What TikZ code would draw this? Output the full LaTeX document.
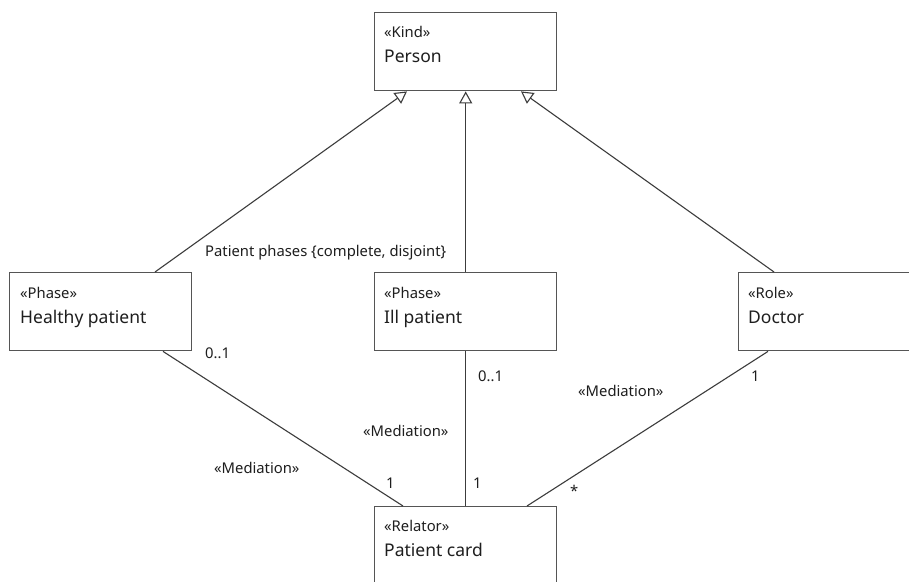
\documentclass[tikz,border=0pt]{standalone}
\usepackage{fontspec}
\setmainfont{Noto Sans}
\usetikzlibrary{arrows.meta,calc}
\definecolor{boxgray}{HTML}{555555}
\definecolor{linegray}{HTML}{3C3C3C}
\definecolor{txt}{HTML}{1E1E1E}
\begin{document}
\begin{tikzpicture}[x=1pt,y=-1pt,
  cls/.style={draw=boxgray, line width=1.4pt, fill=white, rectangle, anchor=north west,
    minimum width=182pt, minimum height=78pt, inner sep=0pt},
  stereo/.style={anchor=base west, inner sep=0pt, font=\fontsize{14.8}{17}\selectfont, text=txt},
  cname/.style={anchor=base west, inner sep=0pt, font=\fontsize{17.5}{20}\selectfont, text=txt},
  lbl/.style={anchor=base west, inner sep=0pt, font=\fontsize{14.8}{17}\selectfont, text=txt},
  gen/.style={draw=linegray, line width=1.1pt,
    -{Triangle[open, length=12pt, width=13pt, line width=1.1pt]}},
  assoc/.style={draw=linegray, line width=1.1pt}]
\useasboundingbox[fill=white] (0,0) rectangle (909,581);

% classes
\node[cls] (person)  at (374,12)  {};
\node[cls] (healthy) at (9,272)   {};
\node[cls] (ill)     at (374,272) {};
\node[cls] (doctor)  at (738,272) {};
\node[cls] (card)    at (374,506) {};

% stereotypes and names
\node[stereo] (personS)  at ($(person.north west)+(10,25)$)  {«Kind»};
\node[cname]  (personN)  at ($(person.north west)+(10,50)$)  {Person};
\node[stereo] (healthyS) at ($(healthy.north west)+(11,26)$) {«Phase»};
\node[cname]  (healthyN) at ($(healthy.north west)+(11,51)$) {Healthy patient};
\node[stereo] (illS)     at ($(ill.north west)+(10,26)$)     {«Phase»};
\node[cname]  (illN)     at ($(ill.north west)+(10,51)$)     {Ill patient};
\node[stereo] (doctorS)  at ($(doctor.north west)+(10,26)$)  {«Role»};
\node[cname]  (doctorN)  at ($(doctor.north west)+(10,51)$)  {Doctor};
\node[stereo] (cardS)    at ($(card.north west)+(10,25)$)    {«Relator»};
\node[cname]  (cardN)    at ($(card.north west)+(10,50)$)    {Patient card};

% generalizations
\draw[gen] ($(healthy.north west)+(146,0)$) -- ($(person.south west)+(33,0)$);
\draw[gen] (ill.north) -- (person.south);
\draw[gen] ($(doctor.north west)+(36,0)$) -- ($(person.south west)+(147,0)$);
\node[lbl] (gset) at (205,256) {Patient phases \{complete, disjoint\}};

% mediations
\draw[assoc] ($(healthy.south west)+(154,0)$) -- ($(card.north west)+(29,0)$);
\draw[assoc] (ill.south) -- (card.north);
\draw[assoc] ($(doctor.south west)+(30,0)$) -- ($(card.north west)+(153,0)$);

\node[lbl] (m1)  at (214,473) {«Mediation»};
\node[lbl] (m1a) at (205,358) {0..1};
\node[lbl] (m1b) at (386,488) {1};

\node[lbl] (m2)  at (363,436) {«Mediation»};
\node[lbl] (m2a) at (478,381) {0..1};
\node[lbl] (m2b) at (473,488) {1};

\node[lbl] (m3)  at (578,396) {«Mediation»};
\node[lbl] (m3a) at (751,381) {1};
\node[lbl] (m3b) at (570,496) {*};
\end{tikzpicture}
\end{document}
